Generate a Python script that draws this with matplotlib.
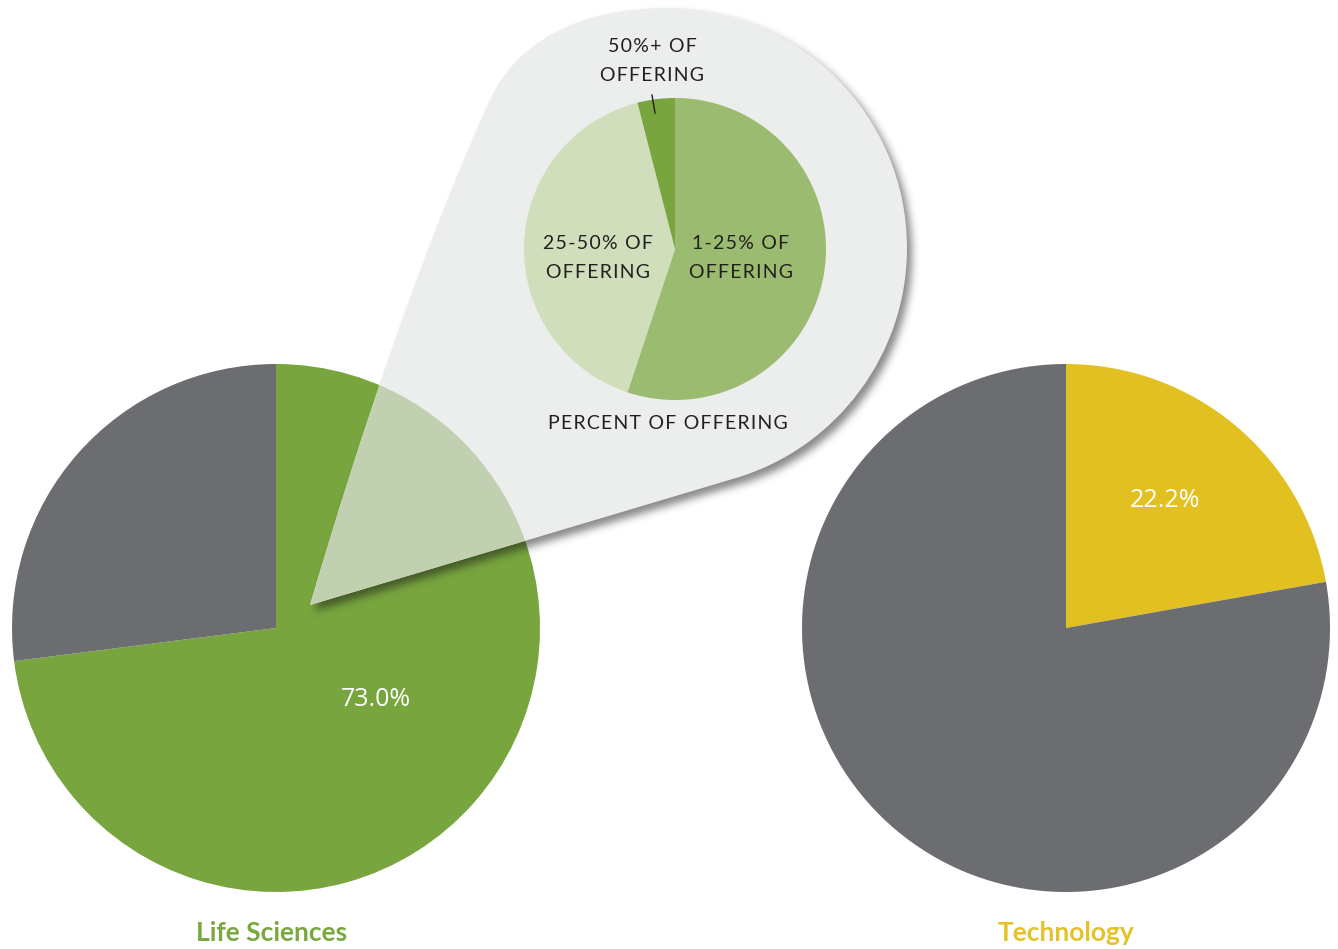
import numpy as np
import matplotlib
matplotlib.use("Agg")
import matplotlib.pyplot as plt
from matplotlib.path import Path
from matplotlib.patches import PathPatch, Circle
from matplotlib.colors import to_rgb

W, H = 1338, 949

# sector shares (%)
sectors = ["Life Sciences", "Technology"]
share_with = [73.0, 22.2]
# breakdown of the life-science slice by percent of offering
offer_labels = ["1-25% OF\nOFFERING", "25-50% OF\nOFFERING", "50%+ OF\nOFFERING"]
offer_values = [55.1, 40.9, 4.0]

GREEN = "#78A53E"
GREY = "#6C6D71"
YELLOW = "#E3C022"
INSET_COLORS = ["#9BBC70", "#D0DEBB", "#78A53E"]
BUBBLE_RGB = np.array([227, 228, 229]) / 255
BUBBLE_ALPHA = 0.68
TEXT = "#231F20"
SC_FONT = ["Lato", "DejaVu Sans"]
HAIR = "\u200a"


def iy(y):
    """image row -> data y"""
    return H - y


def tracked(s):
    # widen letter spacing a little
    return "\n".join(HAIR.join(line) for line in s.split("\n"))


def gaussian_blur(a, sigma):
    r = int(3 * sigma)
    k = np.exp(-0.5 * (np.arange(-r, r + 1) / sigma) ** 2)
    k /= k.sum()
    h, w = a.shape
    p = np.pad(a, r)
    tmp = sum(k[i] * p[:, i:i + w] for i in range(2 * r + 1))
    return sum(k[i] * tmp[i:i + h, :] for i in range(2 * r + 1))


fig = plt.figure(figsize=(W / 100, H / 100), dpi=100)
ax = fig.add_axes([0, 0, 1, 1])

left_c = (276, iy(628))
right_c = (1066, iy(628))
inset_c = (675, iy(249))
R_BIG, R_INSET = 264, 151

ax.pie([share_with[0], 100 - share_with[0]], colors=[GREEN, GREY],
       startangle=90, counterclock=False, center=left_c, radius=R_BIG,
       frame=True, wedgeprops=dict(linewidth=0))
ax.pie([share_with[1], 100 - share_with[1]], colors=[YELLOW, GREY],
       startangle=90, counterclock=False, center=right_c, radius=R_BIG,
       frame=True, wedgeprops=dict(linewidth=0))

# callout bubble: tip on the green slice, round head around the inset pie
tip = (310, 605)
pts = [tip,
       (360, 435), (422, 250), (490, 100),
       (515, 45), (575, 8), (667, 8),
       (799.5, 8), (907, 115.5), (907, 248),
       (907, 353.8), (837.4, 447.6), (736, 478),
       tip, tip]
codes = ([Path.MOVETO] + [Path.CURVE4] * 12 + [Path.LINETO, Path.CLOSEPOLY])
bubble = Path([(x, iy(y)) for x, y in pts], codes)

# soft drop shadow
yy, xx = np.mgrid[0:H, 0:W]
grid = np.column_stack([xx.ravel() + 0.5, H - (yy.ravel() + 0.5)])
mask = bubble.contains_points(grid).reshape(H, W).astype(float)
soft = gaussian_blur(mask, 4.0)
shadow = np.zeros((H, W, 4))
shadow[..., :3] = 0.08
shadow[..., 3] = soft * 0.5
dx, dy = 5, 6
ax.imshow(shadow, extent=(dx, W + dx, -dy, H - dy), origin="upper",
          zorder=2, interpolation="bilinear")

bub_face = BUBBLE_ALPHA * BUBBLE_RGB + (1 - BUBBLE_ALPHA)
bub_patch = PathPatch(bubble, facecolor=bub_face, edgecolor="none", zorder=3)
ax.add_patch(bub_patch)
tint = BUBBLE_ALPHA * BUBBLE_RGB + (1 - BUBBLE_ALPHA) * np.array(to_rgb(GREEN))
see_through = Circle(left_c, R_BIG, facecolor=tint, edgecolor="none", zorder=4)
ax.add_patch(see_through)
see_through.set_clip_path(bub_patch)

wedges, _ = ax.pie(offer_values, colors=INSET_COLORS, startangle=90,
                   counterclock=False, center=inset_c, radius=R_INSET,
                   frame=True, wedgeprops=dict(linewidth=0))
for w in wedges:
    w.set_zorder(5)

sc = dict(fontfamily=SC_FONT, fontsize=14, color=TEXT, ha="center",
          va="center", linespacing=1.9, zorder=6)
ax.text(598, iy(258), tracked(offer_labels[1]), **sc)
ax.text(741, iy(258), tracked(offer_labels[0]), **sc)
ax.text(652, iy(61), tracked(offer_labels[2]), **sc)
ax.text(668, iy(423), tracked("PERCENT OF OFFERING"), **sc)
ax.plot([652, 655], [iy(95), iy(113)], color=TEXT, lw=1, zorder=6)

num = dict(fontfamily="Open Sans", fontsize=18, color="white",
           ha="center", va="center", zorder=6)
ax.text(376, iy(699), f"{share_with[0]:.1f}%", **num)
ax.text(1165, iy(500), f"{share_with[1]:.1f}%", **num)

ttl = dict(fontfamily="Lato", fontweight="bold", fontsize=19,
           ha="center", va="center")
ax.text(272, iy(933), sectors[0], color="#79A83F", **ttl)
ax.text(1066, iy(933), sectors[1], color="#E5C22A", **ttl)

ax.set_xlim(0, W)
ax.set_ylim(0, H)
ax.set_aspect("auto")
ax.axis("off")
fig.savefig("out.png", dpi=100, facecolor="white")
